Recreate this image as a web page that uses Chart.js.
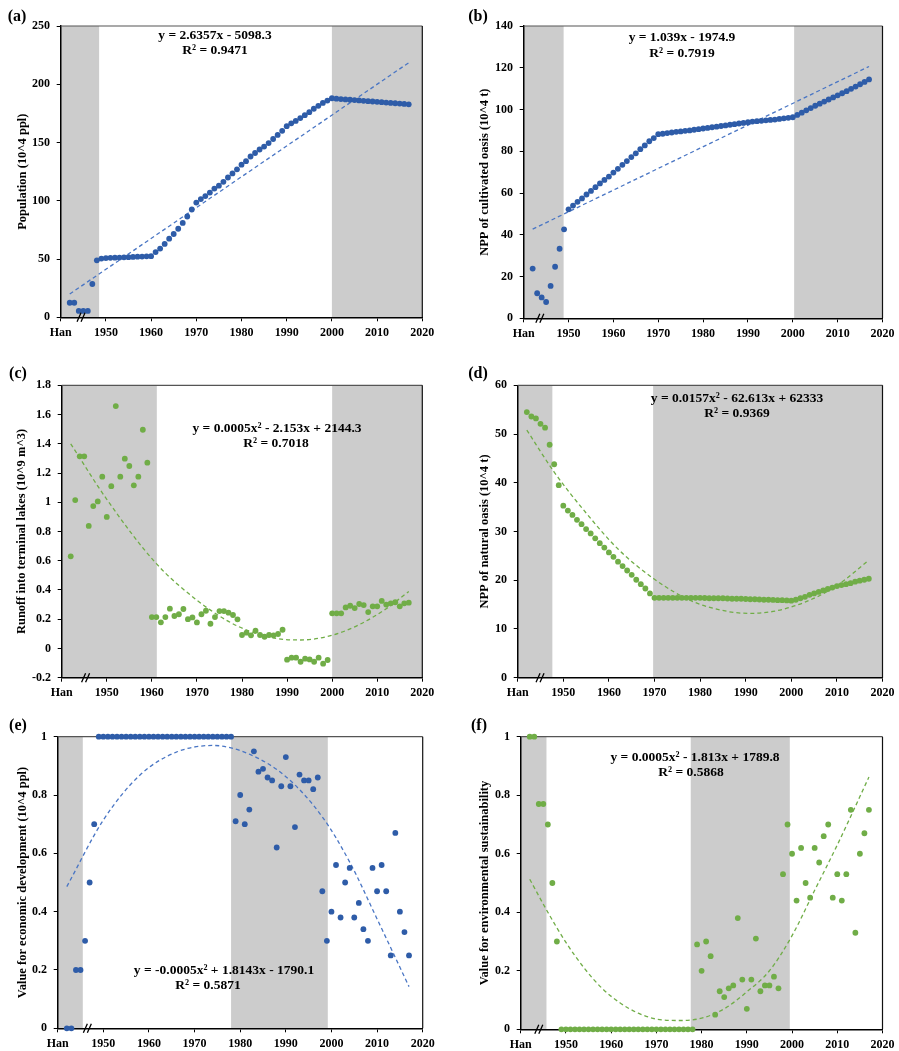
<!DOCTYPE html>
<html>
<head>
<meta charset="utf-8">
<title>Population, NPP, runoff and development values</title>
<script src="https://cdn.jsdelivr.net/npm/chart.js@4.4.1/dist/chart.umd.min.js"></script>
<style>
  body { margin: 0; background: #fff; width: 899px; height: 1051px; overflow: hidden; position: relative;
         font-family: "Liberation Serif", "Times New Roman", serif; }
  .panel { position: absolute; }
  .txt { position: absolute; font-weight: bold; white-space: nowrap; color: #000; transform: translate(-50%, -50%); }
  .tag { font-size: 16px; }
  .eq { font-size: 13.5px; }
</style>
</head>
<body>

<div class="panel" style="left:0;top:0;width:449px;height:350px"><canvas id="chA"></canvas></div>
<div class="panel" style="left:449px;top:0;width:450px;height:350px"><canvas id="chB"></canvas></div>
<div class="panel" style="left:0;top:340px;width:449px;height:360px"><canvas id="chC"></canvas></div>
<div class="panel" style="left:449px;top:340px;width:450px;height:360px"><canvas id="chD"></canvas></div>
<div class="panel" style="left:0;top:690px;width:449px;height:361px"><canvas id="chE"></canvas></div>
<div class="panel" style="left:449px;top:690px;width:450px;height:361px"><canvas id="chF"></canvas></div>

<div class="txt tag" style="left:17px;top:16px">(a)</div>
<div class="txt tag" style="left:478px;top:16px">(b)</div>
<div class="txt tag" style="left:18px;top:373px">(c)</div>
<div class="txt tag" style="left:478px;top:373px">(d)</div>
<div class="txt tag" style="left:18px;top:725px">(e)</div>
<div class="txt tag" style="left:479px;top:725px">(f)</div>

<div class="txt eq" style="left:215px;top:35px">y = 2.6357x - 5098.3</div>
<div class="txt eq" style="left:215px;top:50px">R² = 0.9471</div>
<div class="txt eq" style="left:682px;top:37px">y = 1.039x - 1974.9</div>
<div class="txt eq" style="left:682px;top:53px">R² = 0.7919</div>
<div class="txt eq" style="left:277px;top:428px">y = 0.0005x² - 2.153x + 2144.3</div>
<div class="txt eq" style="left:276px;top:443px">R² = 0.7018</div>
<div class="txt eq" style="left:737px;top:398px">y = 0.0157x² - 62.613x + 62333</div>
<div class="txt eq" style="left:737px;top:413px">R² = 0.9369</div>
<div class="txt eq" style="left:224px;top:970px">y = -0.0005x² + 1.8143x - 1790.1</div>
<div class="txt eq" style="left:208px;top:985px">R² = 0.5871</div>
<div class="txt eq" style="left:695px;top:757px">y = 0.0005x² - 1.813x + 1789.8</div>
<div class="txt eq" style="left:691px;top:772px">R² = 0.5868</div>

<script>
// Six-panel figure: Han period + 1948-2017 series, with Excel-style trend lines

const FONT = "'Liberation Serif', 'Times New Roman', serif";
const BLUE = "#2E5CA8";
const BLUE_TREND = "#4A76C4";
const GREEN = "#70AD47";
const GREEN_TREND = "#70AD47";
const BAND_GRAY = "#CCCCCC";

// ---- x axis ----
const xTickValues = [1940, 1950, 1960, 1970, 1980, 1990, 2000, 2010, 2020];
const xTickLabels = ["Han", "1950", "1960", "1970", "1980", "1990", "2000", "2010", "2020"];

// years of every plotted point (first six/seven are the Han-period points)
const years = [
  1942, 1943, 1944, 1945, 1946, 1947, 1948, 1949, 1950, 1951,
  1952, 1953, 1954, 1955, 1956, 1957, 1958, 1959, 1960, 1961,
  1962, 1963, 1964, 1965, 1966, 1967, 1968, 1969, 1970, 1971,
  1972, 1973, 1974, 1975, 1976, 1977, 1978, 1979, 1980, 1981,
  1982, 1983, 1984, 1985, 1986, 1987, 1988, 1989, 1990, 1991,
  1992, 1993, 1994, 1995, 1996, 1997, 1998, 1999, 2000, 2001,
  2002, 2003, 2004, 2005, 2006, 2007, 2008, 2009, 2010, 2011,
  2012, 2013, 2014, 2015, 2016, 2017
];

// (a) population, 10^4 ppl
const population = [
  12.5, 12.5, 5.5, 5.5, 5.5, 28.6, 48.9, 50.4, 50.8, 51.0,
  51.2, 51.3, 51.5, 51.6, 51.8, 52.0, 52.1, 52.3, 52.5, 56.0,
  59.0, 63.0, 67.5, 71.5, 76.0, 81.0, 86.5, 92.5, 98.5, 101.5,
  104.0, 107.0, 110.5, 113.0, 116.3, 120.0, 123.5, 127.0, 131.0, 134.0,
  138.0, 141.0, 144.0, 146.5, 149.5, 153.0, 156.5, 160.0, 164.0, 166.5,
  168.5, 171.0, 173.5, 176.0, 179.0, 181.5, 184.0, 186.0, 188.0, 187.6,
  187.3, 187.0, 186.7, 186.4, 186.1, 185.8, 185.5, 185.2, 184.9, 184.6,
  184.3, 184.0, 183.7, 183.4, 183.1, 182.8
];
const trendPopYears = [1942, 2017];
const trendPop = [20.0, 218.5];

// (b) NPP of cultivated oasis, 10^4 t
const nppCultivated = [
  23.8, 12.0, 10.0, 7.8, 15.5, 24.7, 33.3, 42.6, 52.2, 54.0,
  55.8, 57.4, 59.3, 61.0, 62.8, 64.6, 66.3, 67.9, 69.8, 71.6,
  73.5, 75.3, 77.2, 79.0, 81.0, 82.8, 84.8, 86.3, 88.2, 88.4,
  88.7, 89.0, 89.3, 89.5, 89.8, 90.0, 90.3, 90.6, 90.9, 91.2,
  91.5, 91.8, 92.1, 92.4, 92.7, 93.0, 93.3, 93.6, 93.9, 94.2,
  94.4, 94.6, 94.8, 95.0, 95.2, 95.5, 95.8, 96.0, 96.3, 97.4,
  98.5, 99.6, 100.7, 101.8, 102.8, 103.8, 104.8, 105.8, 106.8, 107.8,
  108.8, 109.9, 111.0, 112.1, 113.2, 114.4
];
const trendCultYears = [1942, 2017];
const trendCult = [42.7, 120.6];

// (c) runoff into terminal lakes, 10^9 m^3
const runoff = [
  0.63, 1.015, 1.314, 1.314, 0.838, 0.974, 1.006, 1.175, 0.90, 1.11,
  1.658, 1.175, 1.298, 1.248, 1.116, 1.175, 1.496, 1.271, 0.215, 0.215,
  0.179, 0.215, 0.272, 0.222, 0.234, 0.27, 0.20, 0.212, 0.178, 0.234,
  0.258, 0.169, 0.215, 0.256, 0.256, 0.245, 0.229, 0.199, 0.092, 0.108,
  0.09, 0.121, 0.092, 0.08, 0.092, 0.09, 0.099, 0.128, -0.077, -0.063,
  -0.063, -0.091, -0.07, -0.075, -0.091, -0.063, -0.104, -0.079, 0.24, 0.24,
  0.24, 0.281, 0.292, 0.276, 0.304, 0.297, 0.249, 0.288, 0.288, 0.325,
  0.30, 0.309, 0.316, 0.288, 0.309, 0.313
];
const trendRunoffYears = [1942, 1950, 1961, 1970, 1977, 1982, 1988, 1993, 2000, 2006, 2012, 2017];
const trendRunoff = [1.40, 1.02, 0.58, 0.33, 0.185, 0.115, 0.067, 0.058, 0.09, 0.163, 0.272, 0.39];

// (d) NPP of natural oasis, 10^4 t
const nppNatural = [
  54.5, 53.6, 53.2, 52.1, 51.3, 47.8, 43.8, 39.5, 35.3, 34.3,
  33.4, 32.4, 31.5, 30.5, 29.6, 28.6, 27.6, 26.7, 25.7, 24.8,
  23.8, 22.9, 22.0, 21.1, 20.1, 19.2, 18.3, 17.3, 16.4, 16.4,
  16.4, 16.4, 16.4, 16.4, 16.4, 16.4, 16.4, 16.4, 16.4, 16.35,
  16.3, 16.3, 16.3, 16.3, 16.25, 16.2, 16.2, 16.2, 16.15, 16.1,
  16.1, 16.05, 16.0, 16.0, 15.95, 15.9, 15.9, 15.85, 15.8, 16.0,
  16.3, 16.6, 17.0, 17.3, 17.6, 17.9, 18.2, 18.5, 18.8, 19.0,
  19.2, 19.4, 19.7, 19.9, 20.1, 20.3
];
const trendNatYears = [1942, 1948, 1955, 1962, 1970, 1978, 1986, 1991, 1996, 2003, 2010, 2017];
const trendNat = [50.8, 42.2, 33.8, 26.4, 20.2, 15.8, 13.6, 13.2, 13.6, 15.5, 18.9, 24.1];

// (e) value for economic development
const econValue = [
  0, 0, 0.2, 0.2, 0.3, 0.5, 0.7, 1, 1, 1,
  1, 1, 1, 1, 1, 1, 1, 1, 1, 1,
  1, 1, 1, 1, 1, 1, 1, 1, 1, 1,
  1, 1, 1, 1, 1, 1, 1, 0.71, 0.80, 0.70,
  0.75, 0.95, 0.88, 0.89, 0.86, 0.85, 0.62, 0.83, 0.93, 0.83,
  0.69, 0.87, 0.85, 0.85, 0.82, 0.86, 0.47, 0.30, 0.40, 0.56,
  0.38, 0.50, 0.55, 0.38, 0.43, 0.34, 0.30, 0.55, 0.47, 0.56,
  0.47, 0.25, 0.67, 0.40, 0.33, 0.25
];
const trendEconYears = [1942, 1950, 1958, 1966, 1974, 1982, 1990, 1998, 2004, 2010, 2017];
const trendEcon = [0.486, 0.714, 0.868, 0.947, 0.97, 0.94, 0.863, 0.725, 0.57, 0.375, 0.143];

// (f) value for environmental sustainability
const envValue = [
  1, 1, 0.77, 0.77, 0.7, 0.5, 0.3, 0, 0, 0,
  0, 0, 0, 0, 0, 0, 0, 0, 0, 0,
  0, 0, 0, 0, 0, 0, 0, 0, 0, 0,
  0, 0, 0, 0, 0, 0, 0, 0.29, 0.20, 0.30,
  0.25, 0.05, 0.13, 0.11, 0.14, 0.15, 0.38, 0.17, 0.07, 0.17,
  0.31, 0.13, 0.15, 0.15, 0.18, 0.14, 0.53, 0.70, 0.60, 0.44,
  0.62, 0.50, 0.45, 0.62, 0.57, 0.66, 0.70, 0.45, 0.53, 0.44,
  0.53, 0.75, 0.33, 0.60, 0.67, 0.75
];
const trendEnvYears = [1942, 1946, 1950, 1954, 1958, 1962, 1966, 1970, 1975, 1980, 1985, 1990, 1995, 2000, 2005, 2010, 2017];
const trendEnv = [0.513, 0.40, 0.297, 0.21, 0.14, 0.09, 0.055, 0.035, 0.03, 0.038, 0.07, 0.128, 0.20, 0.32, 0.475, 0.63, 0.862];

// ---- panel setup (geometry in canvas px) ----
const panels = [
  { id: "chA", values: population, tYears: trendPopYears, tValues: trendPop, color: BLUE, tColor: BLUE_TREND,
    yMin: 0, yMax: 250, yStep: 50, yTitle: "Population (10^4 ppl)",
    padTop: 26, padRight: 26.7, yWidth: 60.7, xHeight: 32.7, titlePad: 15.2,
    bands: [[1940, 1948.5], [2000, 2020]], breakAt: 1944.5 },
  { id: "chB", values: nppCultivated, tYears: trendCultYears, tValues: trendCult, color: BLUE, tColor: BLUE_TREND,
    yMin: 0, yMax: 140, yStep: 20, yTitle: "NPP of cultivated oasis (10^4 t)",
    padTop: 26, padRight: 13.3, yWidth: 74.7, xHeight: 31.7, titlePad: 27.8,
    bands: [[1940, 1948.9], [2000.3, 2020]], breakAt: 1943.6 },
  { id: "chC", values: runoff, tYears: trendRunoffYears, tValues: trendRunoff, color: GREEN, tColor: GREEN_TREND, curve: true,
    yMin: -0.2, yMax: 1.8, yStep: 0.2, yTitle: "Runoff into terminal lakes (10^9 m^3)",
    padTop: 45.3, padRight: 26.7, yWidth: 61.7, xHeight: 22.3, titlePad: 14.2,
    bands: [[1940, 1961.1], [2000, 2020]], breakAt: 1945.3 },
  { id: "chD", values: nppNatural, tYears: trendNatYears, tValues: trendNat, color: GREEN, tColor: GREEN_TREND, curve: true,
    yMin: 0, yMax: 60, yStep: 10, yTitle: "NPP of natural oasis (10^4 t)",
    padTop: 45.3, padRight: 14, yWidth: 68.7, xHeight: 22.3, titlePad: 28.5,
    bands: [[1940, 1947.6], [1969.7, 2020]], breakAt: 1944.9 },
  { id: "chE", values: econValue, tYears: trendEconYears, tValues: trendEcon, color: BLUE, tColor: BLUE_TREND, curve: true,
    yMin: 0, yMax: 1, yStep: 0.2, yTitle: "Value for economic development (10^4 ppl)",
    padTop: 46.7, padRight: 26.3, yWidth: 57.7, xHeight: 22.7, titlePad: 15.2,
    bands: [[1940, 1945.5], [1978, 1999.2]], breakAt: 1946.5 },
  { id: "chF", values: envValue, tYears: trendEnvYears, tValues: trendEnv, color: GREEN, tColor: GREEN_TREND, curve: true,
    yMin: 0, yMax: 1, yStep: 0.2, yTitle: "Value for environmental sustainability",
    padTop: 46.7, padRight: 13.3, yWidth: 71.7, xHeight: 21.7, titlePad: 27.8,
    bands: [[1940, 1945.7], [1977.6, 1999.5]], breakAt: 1944.0 }
];

const tickFont = { family: FONT, size: 12, weight: "bold" };

// grey period bands, top/right frame and the "//" axis break
function makeDecor(p) {
  return {
    id: "decor_" + p.id,
    beforeDraw(chart) {
      const { ctx, chartArea: a, scales: { x } } = chart;
      ctx.save();
      ctx.fillStyle = BAND_GRAY;
      for (const [b0, b1] of p.bands) {
        const x0 = Math.max(a.left, x.getPixelForValue(b0));
        const x1 = Math.min(a.right, x.getPixelForValue(b1));
        ctx.fillRect(x0, a.top, x1 - x0, a.bottom - a.top);
      }
      ctx.restore();
    },
    beforeDatasetsDraw(chart) {
      const { ctx, chartArea: a } = chart;
      ctx.save();
      ctx.lineWidth = 1.2;
      ctx.strokeStyle = "#555";
      ctx.beginPath();
      ctx.moveTo(a.left, a.top);
      ctx.lineTo(a.right, a.top);
      ctx.stroke();
      ctx.strokeStyle = "#111";
      ctx.beginPath();
      ctx.moveTo(a.right, a.top);
      ctx.lineTo(a.right, a.bottom);
      ctx.stroke();
      ctx.restore();
    },
    afterDraw(chart) {
      const { ctx, chartArea: a, scales: { x } } = chart;
      const cx = x.getPixelForValue(p.breakAt), cy = a.bottom;
      ctx.save();
      ctx.strokeStyle = "#000";
      ctx.lineWidth = 1.3;
      ctx.beginPath();
      ctx.moveTo(cx - 4, cy + 4.5); ctx.lineTo(cx, cy - 4.5);
      ctx.moveTo(cx, cy + 4.5); ctx.lineTo(cx + 4, cy - 4.5);
      ctx.stroke();
      ctx.restore();
    }
  };
}

function buildPanel(p) {
  const pts = years.map((yr, i) => ({ x: yr, y: p.values[i] }));
  const trend = p.tYears.map((yr, i) => ({ x: yr, y: p.tValues[i] }));
  return new Chart(document.getElementById(p.id), {
    type: "scatter",
    data: {
      datasets: [
        { data: pts, backgroundColor: p.color, borderColor: p.color, pointRadius: 2.9,
          pointBorderWidth: 0, pointHoverRadius: 2.9, clip: false },
        { type: "line", data: trend, borderColor: p.tColor, borderWidth: 1.3, borderDash: [4, 3],
          pointRadius: 0, fill: false, tension: 0,
          cubicInterpolationMode: p.curve ? "monotone" : "default" }
      ]
    },
    options: {
      responsive: true,
      maintainAspectRatio: false,
      animation: false,
      events: [],
      layout: { padding: { top: p.padTop, right: p.padRight, left: 0, bottom: 0 } },
      plugins: { legend: { display: false }, tooltip: { enabled: false } },
      scales: {
        x: {
          type: "linear", min: 1940, max: 2020,
          afterBuildTicks: s => { s.ticks = xTickValues.map(v => ({ value: v })); },
          afterFit: s => { s.height = p.xHeight; },
          ticks: { callback: v => xTickLabels[xTickValues.indexOf(v)], font: tickFont, color: "#000",
                   padding: 4.5, maxRotation: 0, autoSkip: false },
          grid: { drawOnChartArea: false, drawTicks: true, tickLength: 4, color: "#000", lineWidth: 1 },
          border: { display: true, color: "#000", width: 1.5 }
        },
        y: {
          min: p.yMin, max: p.yMax,
          afterFit: s => { s.width = p.yWidth; },
          ticks: { stepSize: p.yStep, callback: v => String(Math.round(v * 100) / 100),
                   font: tickFont, color: "#000", padding: 6.7 },
          grid: { drawOnChartArea: false, drawTicks: true, tickLength: 4, color: "#000", lineWidth: 1 },
          border: { display: true, color: "#000", width: 1.5 },
          title: { display: true, text: p.yTitle, color: "#000",
                   font: { family: FONT, size: 12.5, weight: "bold" }, padding: { top: p.titlePad, bottom: 0 } }
        }
      }
    },
    plugins: [makeDecor(p)]
  });
}

document.addEventListener("DOMContentLoaded", () => {
  panels.forEach(buildPanel);
});
</script>
</body>
</html>
